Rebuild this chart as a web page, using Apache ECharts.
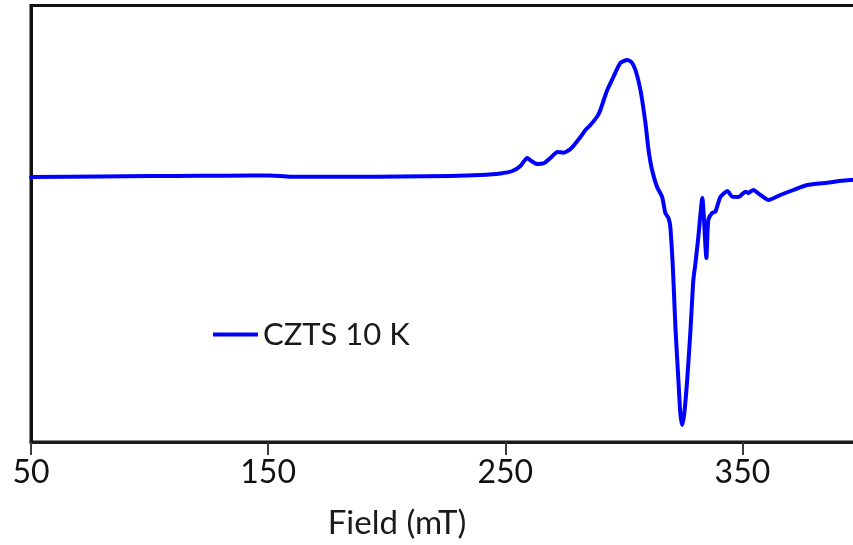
<!DOCTYPE html>
<html>
<head>
<meta charset="utf-8">
<script src="https://cdn.jsdelivr.net/npm/echarts@6/dist/echarts.min.js"></script>
<style>
  html, body { margin: 0; padding: 0; background: #ffffff; overflow: hidden; }
  /* the plot runs on past the right edge of the page, up to 400 mT */
  #chart { width: 861px; height: 545px; }
</style>
</head>
<body>
<div id="chart"></div>
<script>
// EPR spectrum of CZTS at 10 K: magnetic field (mT) vs. derivative signal (arb. units, offset so the trough sits above 0)
const fieldMT = [
  50.0, 79.1, 100.2, 121.3, 142.4, 150.8, 159.3, 184.6, 205.7, 226.8,
  239.5, 247.9, 253.0, 256.4, 259.2, 261.0, 263.5, 266.5, 269.0, 272.0,
  274.5, 277.5, 281.7, 283.8, 285.9, 288.9, 290.1, 291.8, 293.0, 295.6,
  298.5, 301.4, 303.2, 304.9, 307.0, 309.1, 310.4, 311.9, 314.0, 316.1,
  317.5, 318.8, 319.6, 320.5, 320.9, 321.8, 323.0, 323.8, 324.6, 325.5,
  326.7, 328.1, 329.3, 330.2, 331.4, 333.1, 334.8, 335.6, 337.2, 338.6,
  340.7, 343.7, 345.6, 348.3, 351.3, 352.5, 354.6, 357.6, 361.0, 366.0,
  371.5, 377.3, 385.7, 395.6, 397.0
];
const signal = [
  265, 265.5, 266, 266.2, 266.5, 266.5, 265.3, 265.2, 265.4, 266,
  267, 268.5, 271, 276, 284, 281, 278, 279, 284, 290,
  289.3, 293, 305, 312, 317, 326, 332, 344, 352, 365,
  379, 382, 380, 372, 352, 319, 292, 272, 255, 245.3,
  229, 224, 215, 182, 162, 112, 62, 29, 17, 29,
  62, 112, 162, 179, 205, 244, 184, 222, 229, 230.3,
  245, 251, 245.3, 245, 250.3, 249, 252, 247, 242, 247,
  252, 257, 259.3, 262, 262
];
const seriesName = 'CZTS 10 K';
const xScale = { min: 50, max: 400, interval: 100 };
const yScale = { min: 0, max: 436.5 };

const chart = echarts.init(document.getElementById('chart'), null, { renderer: 'canvas' });
const fontFamily = 'Lato, "Open Sans", sans-serif';
const hidden = 'rgba(0,0,0,0)';

chart.setOption({
  animation: false,
  backgroundColor: '#ffffff',
  grid: {
    left: 31, right: 0, top: 5.5, bottom: 103,
    show: true, borderColor: '#111111', borderWidth: 3, backgroundColor: 'transparent'
  },
  legend: {
    left: 208, top: 314,
    icon: 'rect', itemWidth: 45, itemHeight: 4,
    textStyle: { fontFamily, fontSize: 31, color: '#1a1a1a' },
    data: [seriesName]
  },
  xAxis: {
    type: 'value',
    min: xScale.min, max: xScale.max, interval: xScale.interval,
    name: 'Field (mT)',
    nameLocation: 'middle',
    nameGap: 65,
    nameTextStyle: { fontFamily, fontSize: 33, color: '#1a1a1a', padding: [0, 98, 0, 0] },
    axisLine: { show: true, lineStyle: { color: '#1a1a1a', width: 3 } },
    axisTick: { show: true, length: 13, inside: false, lineStyle: { color: '#3a3a3a', width: 2 } },
    axisLabel: { fontFamily, fontSize: 32, color: '#111111', margin: 15, showMaxLabel: false },
    splitLine: { show: true, lineStyle: { color: hidden } }
  },
  yAxis: {
    type: 'value',
    min: yScale.min, max: yScale.max,
    axisLine: { show: true, lineStyle: { color: '#111111', width: 3 } },
    axisTick: { show: false },
    axisLabel: { show: false },
    splitLine: { show: true, lineStyle: { color: hidden } }
  },
  series: [{
    name: seriesName,
    type: 'line',
    data: fieldMT.map((f, i) => [f, signal[i]]),
    showSymbol: false,
    smooth: 0.2,
    clip: true,
    lineStyle: { color: '#0000ff', width: 4, join: 'round', cap: 'round' },
    itemStyle: { color: '#0000ff' }
  }]
});
</script>
</body>
</html>
